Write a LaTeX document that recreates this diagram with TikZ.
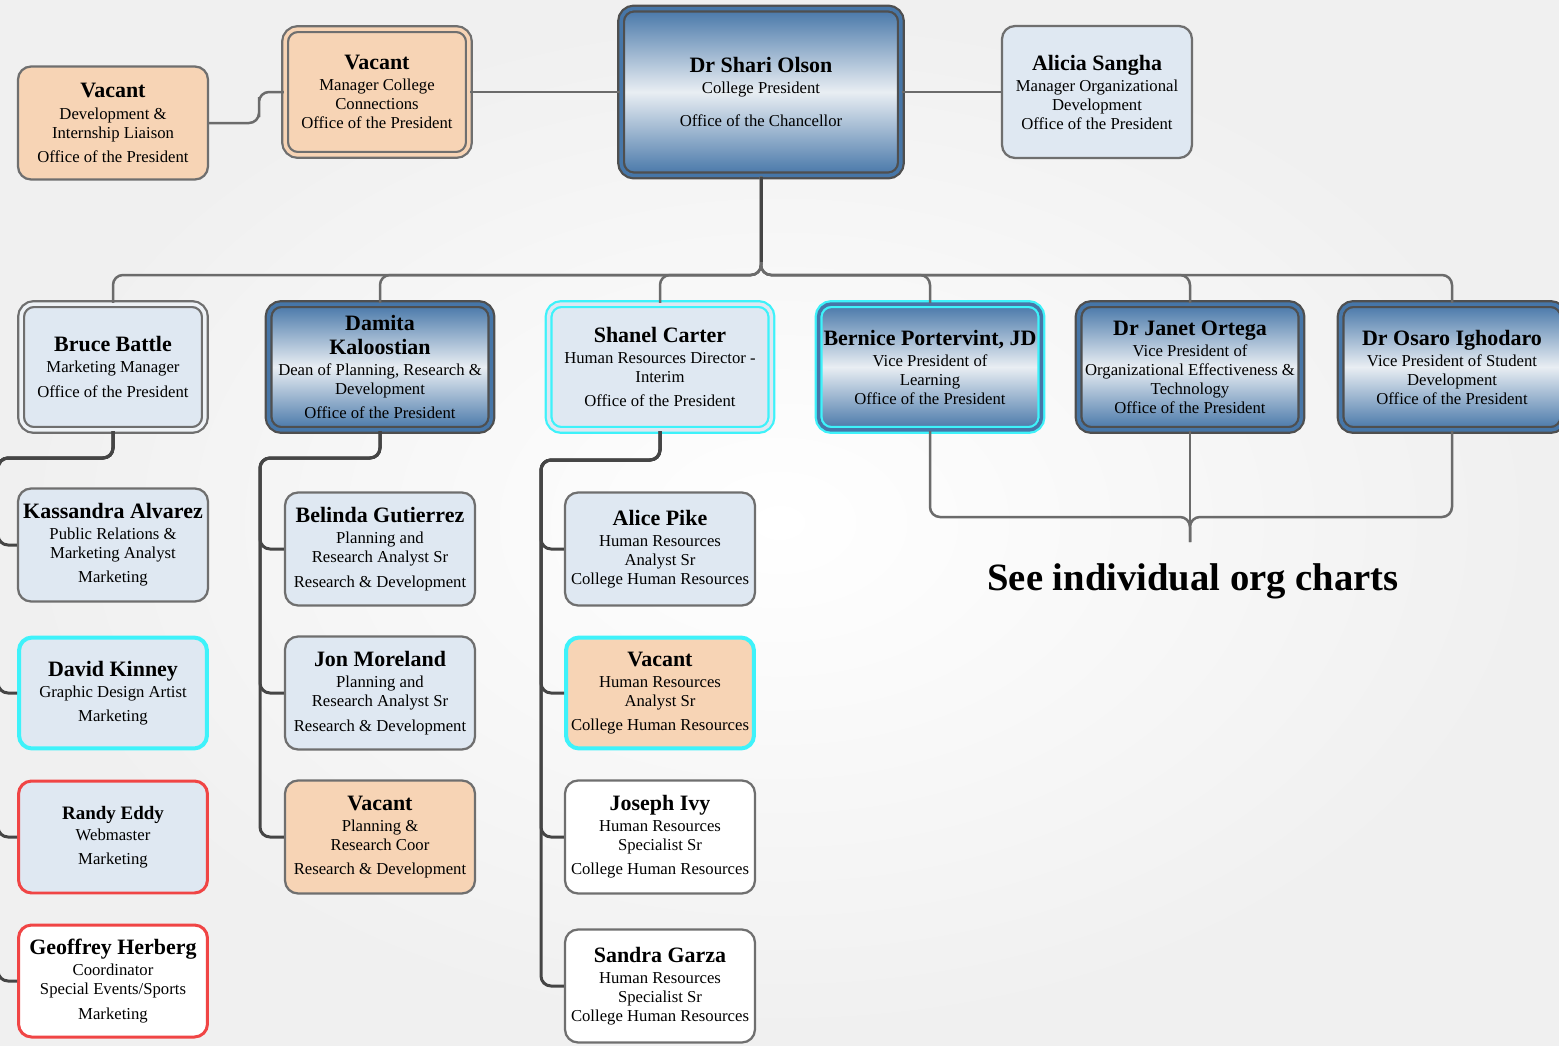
\documentclass[tikz,border=0pt]{standalone}
\usepackage{fontspec}
\setmainfont{Liberation Serif}
\usetikzlibrary{positioning}
\definecolor{boxgray}{HTML}{6F6F6F}
\definecolor{boxdark}{HTML}{4F4F4F}
\definecolor{paleblue}{HTML}{DFE8F2}
\definecolor{paleline}{HTML}{EEF2F6}
\definecolor{peachfill}{HTML}{F7D4B5}
\definecolor{gradblue}{HTML}{4676A8}
\definecolor{gradlight}{HTML}{E9EEF3}
\definecolor{hicyan}{HTML}{3EF2FA}
\definecolor{hired}{HTML}{F04545}
\definecolor{linkgray}{HTML}{6B6B6B}
\definecolor{linkdark}{HTML}{454545}
\newcommand{\who}[1]{{\fontsize{12.5}{14}\selectfont\bfseries #1}\\[1.2pt]}

\begin{document}
\begin{tikzpicture}[x=0.02cm, y=-0.02cm,
  card/.style={rounded corners=0.26cm, align=center, inner sep=1pt,
    line width=0.045cm, draw=boxgray, minimum width=3.8cm, minimum height=2.26cm,
    font=\fontsize{9.5}{10.8}\selectfont},
  staff/.style={card, fill=paleblue},
  vacant/.style={card, fill=peachfill},
  plainbox/.style={card, fill=white},
  exec/.style={card, draw=boxdark, top color=gradblue, bottom color=gradblue,
    middle color=gradlight},
  dbl/.style={double=#1, double distance=0.07cm},
  headrow/.style={minimum width=4.46cm, minimum height=2.52cm},
  link/.style={draw=linkgray, line width=0.05cm, rounded corners=0.2cm},
  trunk/.style={link, draw=linkdark, line width=0.06cm}
]
\useasboundingbox (0,0) rectangle (1559,1045);
\shade[inner color=white, outer color=black!6] (0,0) rectangle (1559,1045);

% top row
\node[exec, dbl=gradblue, minimum width=5.6cm, minimum height=3.34cm] (pres) at (761,92)
  {\who{Dr Shari Olson}College President\\[8pt]Office of the Chancellor};
\node[vacant] (vacdev) at (113,123)
  {\who{Vacant}Development \&\\Internship Liaison\\[3pt]Office of the President};
\node[vacant, dbl=peachfill, minimum width=3.68cm, minimum height=2.52cm] (vaccon) at (377,92)
  {\who{Vacant}Manager College\\Connections\\Office of the President};
\node[staff, minimum height=2.64cm] (alicia) at (1097,92)
  {\who{Alicia Sangha}Manager Organizational\\Development\\Office of the President};

% second row
\node[staff, dbl=paleline, headrow, minimum width=3.68cm] (bruce) at (113,367)
  {\who{Bruce Battle}Marketing Manager\\[3pt]Office of the President};
\node[exec, dbl=gradblue, headrow] (damita) at (380,367)
  {{\fontsize{12.5}{14}\selectfont\bfseries Damita}\\[3.2pt]\who{Kaloostian}Dean of Planning, Research \&\\Development\\[3pt]Office of the President};
\node[staff, dbl=paleblue, draw=hicyan, headrow] (shanel) at (660,367)
  {\who{Shanel Carter}Human Resources Director -\\Interim\\[3pt]Office of the President};
\node[exec, dbl=gradblue, draw=hicyan, headrow] (bernice) at (930,367)
  {\who{Bernice Portervint, JD}Vice President of\\Learning\\Office of the President};
\node[exec, dbl=gradblue, headrow] (janet) at (1190,367)
  {\who{Dr Janet Ortega}Vice President of\\Organizational Effectiveness \&\\Technology\\Office of the President};
\node[exec, dbl=gradblue, headrow] (osaro) at (1452,367)
  {\who{Dr Osaro Ighodaro}Vice President of Student\\Development\\Office of the President};

% marketing column
\node[staff] (kassandra) at (113,545)
  {\who{Kassandra Alvarez}Public Relations \&\\Marketing Analyst\\[3pt]Marketing};
\node[staff, draw=hicyan, line width=0.08cm, minimum width=3.76cm, minimum height=2.22cm] (david) at (113,693)
  {\who{David Kinney}Graphic Design Artist\\[3pt]Marketing};
\node[staff, draw=hired, line width=0.06cm, minimum width=3.78cm, minimum height=2.24cm] (randy) at (113,837)
  {{\fontsize{10.8}{12}\selectfont\bfseries Randy Eddy}\\[1pt]Webmaster\\[3pt]Marketing};
\node[plainbox, draw=hired, line width=0.06cm, minimum width=3.78cm, minimum height=2.24cm] (geoffrey) at (113,981)
  {\who{Geoffrey Herberg}Coordinator\\Special Events/Sports\\[3pt]Marketing};

% research column
\node[staff] (belinda) at (380,549)
  {\who{Belinda Gutierrez}Planning and\\Research Analyst Sr\\[3pt]Research \& Development};
\node[staff] (jon) at (380,693)
  {\who{Jon Moreland}Planning and\\Research Analyst Sr\\[3pt]Research \& Development};
\node[vacant] (vacplan) at (380,837)
  {\who{Vacant}Planning \&\\Research Coor\\[3pt]Research \& Development};

% human resources column
\node[staff] (alice) at (660,549)
  {\who{Alice Pike}Human Resources\\Analyst Sr\\College Human Resources};
\node[vacant, draw=hicyan, line width=0.08cm, minimum width=3.76cm, minimum height=2.22cm] (vachr) at (660,693)
  {\who{Vacant}Human Resources\\Analyst Sr\\[3pt]College Human Resources};
\node[plainbox] (joseph) at (660,837)
  {\who{Joseph Ivy}Human Resources\\Specialist Sr\\[3pt]College Human Resources};
\node[plainbox] (sandra) at (660,986)
  {\who{Sandra Garza}Human Resources\\Specialist Sr\\College Human Resources};

\node[font=\fontsize{22}{26}\selectfont\bfseries] (see) at (1193,581) {See individual org charts};

% connectors
\coordinate (elbow) at (259,107);
\draw[link] (vaccon.west) -| (elbow) |- (vacdev.east);
\draw[link] (vaccon.east) -- (pres.west);
\draw[link] (pres.east) -- (alicia.west);

\coordinate (bus) at (761,275);
\coordinate (busup) at (761,262);
\foreach \n in {bruce,damita,shanel,bernice,janet,osaro}
  \draw[link] (pres.south) -- (bus) -| (\n.north);
\draw[trunk] (pres.south) -- (busup);

\coordinate (spbruce) at (-2,458);
\coordinate (spdamita) at (260,458);
\coordinate (spshanel) at (541,460);
\foreach \n in {kassandra,david,randy,geoffrey}
  \draw[trunk] (bruce.south) |- (spbruce) |- (\n.west);
\foreach \n in {belinda,jon,vacplan}
  \draw[trunk] (damita.south) |- (spdamita) |- (\n.west);
\foreach \n in {alice,vachr,joseph,sandra}
  \draw[trunk] (shanel.south) |- (spshanel) |- (\n.west);

\coordinate (brace) at (1190,517);
\coordinate (bracetip) at (1190,542);
\draw[link] (bernice.south) |- (brace) -- (bracetip);
\draw[link] (osaro.south) |- (brace) -- (bracetip);
\draw[link] (janet.south) -- (bracetip);
\end{tikzpicture}
\end{document}
